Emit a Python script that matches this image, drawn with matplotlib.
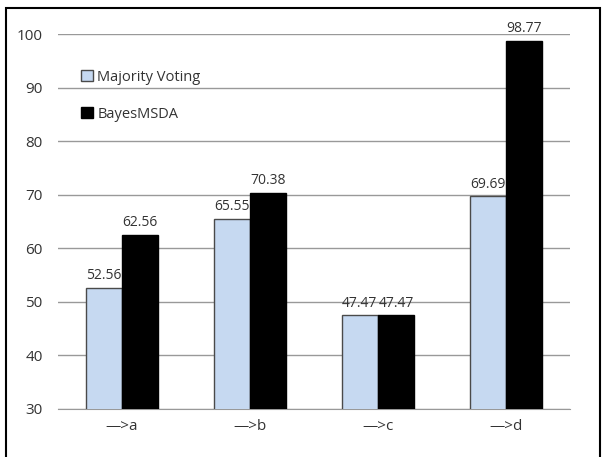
import matplotlib.pyplot as plt
from matplotlib.patches import Rectangle
import numpy as np

plt.rcParams["font.family"] = ["Open Sans", "DejaVu Sans"]

# categories and scores
cats = ["\u2014>a", "\u2014>b", "\u2014>c", "\u2014>d"]
majority = [52.56, 65.55, 47.47, 69.69]
bayes = [62.56, 70.38, 47.47, 98.77]

fig = plt.figure(figsize=(6.08, 4.57), dpi=100)
ax = fig.add_axes([58/608, 1 - 409/457, 512/608, (409 - 34)/457])

x = np.arange(len(cats))
w = 0.285
b1 = ax.bar(x - w/2, majority, w, color="#C6D9F1", edgecolor="#4a4a4a",
            linewidth=1, label="Majority Voting", zorder=3)
b2 = ax.bar(x + w/2, bayes, w, color="black", edgecolor="black",
            linewidth=1, label="BayesMSDA", zorder=3)

# value labels over the bars
for rects, vals in [(b1, majority), (b2, bayes)]:
    for r, v in zip(rects, vals):
        ax.text(r.get_x() + r.get_width()/2, v + 0.9, "%.2f" % v,
                ha="center", va="bottom", fontsize=10, color="#333333")

ax.set_ylim(30, 100)
ax.set_xlim(-0.5, 3.5)
ax.set_yticks(range(30, 101, 10))
ax.set_xticks(x)
ax.set_xticklabels(cats, fontsize=11, color="#333333")
ax.tick_params(axis="y", labelsize=11, colors="#333333", length=0, pad=11)
ax.tick_params(axis="x", length=0, pad=7)
ax.yaxis.grid(True, color="#999999", linewidth=1, zorder=0)
for s in ["top", "right", "left"]:
    ax.spines[s].set_visible(False)
ax.spines["bottom"].set_color("#999999")

leg = ax.legend(loc="upper left", bbox_to_anchor=(0.02, 0.94), frameon=False,
                fontsize=10.5, labelspacing=1.5, handlelength=0.8, handleheight=0.8,
                handletextpad=0.3)
for t in leg.get_texts():
    t.set_color("#333333")

# outer frame around the chart
fig.patches.append(Rectangle((6/608, -0.02), 594/608, 1 - 8/457 + 0.02,
                             transform=fig.transFigure, fill=False,
                             edgecolor="black", linewidth=1.5))

fig.savefig("out.png", dpi=100)
